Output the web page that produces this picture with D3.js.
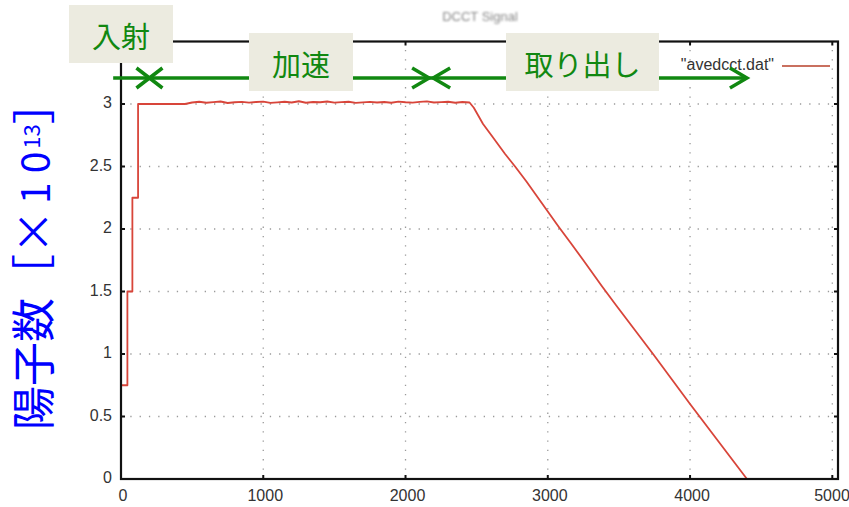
<!DOCTYPE html>
<html>
<head>
<meta charset="utf-8">
<script src="https://cdn.jsdelivr.net/npm/d3@7/dist/d3.min.js"></script>
<style>
  html, body { margin: 0; padding: 0; background: #fff; }
  svg { display: block; }
</style>
</head>
<body>
<svg id="chart" width="849" height="507"></svg>
<script>
// Beam intensity (x10^13 protons) against time in the cycle (ms)
const timeMs = [
  0, 45, 45, 80, 80, 120, 120, 450,
  500, 550, 600, 650, 700, 750, 800, 850, 900, 950,
  1000, 1050, 1100, 1150, 1200, 1250, 1300, 1350, 1400, 1450,
  1500, 1550, 1600, 1650, 1700, 1750, 1800, 1850, 1900, 1950,
  2000, 2050, 2100, 2150, 2200, 2250, 2300, 2350, 2400, 2450,
  2480, 2510, 2545, 2610, 2700, 2770, 2850, 2950, 3075, 3160,
  3250, 3382, 3480, 3600, 3740, 3870, 4000, 4100, 4200, 4300,
  4400
];
const intensity = [
  0.75, 0.75, 1.5, 1.5, 2.25, 2.25, 3.0, 3.0,
  3.012, 3.018, 3.010, 3.015, 3.020, 3.008, 3.014, 3.017, 3.011, 3.016,
  3.019, 3.009, 3.013, 3.018, 3.012, 3.022, 3.010, 3.016, 3.014, 3.020,
  3.011, 3.015, 3.018, 3.009, 3.013, 3.017, 3.012, 3.016, 3.010, 3.019,
  3.014, 3.011, 3.017, 3.021, 3.012, 3.015, 3.018, 3.010, 3.016, 3.012,
  2.97, 2.91, 2.84, 2.74, 2.60, 2.50, 2.38, 2.22, 2.02, 1.89,
  1.75, 1.54, 1.39, 1.21, 1.00, 0.80, 0.60, 0.45, 0.30, 0.15,
  0.0
];

const xTicks = [0, 1000, 2000, 3000, 4000, 5000];
const yTicks = [0, 0.5, 1, 1.5, 2, 2.5, 3];
const yTickLabels = ["0", "0.5", "1", "1.5", "2", "2.5", "3"];

// Cycle phases: names and their boundaries in ms
const phaseNames = ["入射", "加速", "取り出し"];
const phaseStartMs = -55;
const injectionMarkMs = 200;
const accelEndMs = 2180;
const extractionEndMs = 4400;

const chartTitle = "DCCT Signal";
const legendLabel = "\"avedcct.dat\"";

const plot = { left: 121, right: 838, top: 41.5, bottom: 479 };

const svg = d3.select("#chart");

const x = d3.scaleLinear().domain([0, 5040]).range([plot.left, plot.right]);
const y = d3.scaleLinear().domain([0, 3.5]).range([plot.bottom, plot.top]);

// dotted grid
const grid = svg.append("g").attr("stroke", "#9a9a9a").attr("stroke-width", 1.3)
  .attr("stroke-dasharray", "1.3,8").attr("fill", "none");
grid.selectAll("line.v").data(xTicks.filter(d => d > 0)).join("line")
  .attr("class", "v")
  .attr("x1", d => x(d)).attr("x2", d => x(d))
  .attr("y1", plot.bottom).attr("y2", plot.top);
grid.selectAll("line.h").data(yTicks.filter(d => d > 0)).join("line")
  .attr("class", "h")
  .attr("x1", plot.left).attr("x2", plot.right)
  .attr("y1", d => y(d)).attr("y2", d => y(d));

// data line
const pts = timeMs.map((t, i) => [t, intensity[i]]);
const line = d3.line().x(d => x(d[0])).y(d => y(d[1]));
svg.append("path")
  .attr("d", line(pts))
  .attr("fill", "none")
  .attr("stroke", "#d8453a")
  .attr("stroke-width", 1.8)
  .attr("stroke-linejoin", "round");

// frame and mirrored inward ticks
svg.append("rect")
  .attr("x", plot.left).attr("y", plot.top)
  .attr("width", plot.right - plot.left).attr("height", plot.bottom - plot.top)
  .attr("fill", "none").attr("stroke", "#111").attr("stroke-width", 2.2);

const tk = svg.append("g").attr("stroke", "#111").attr("stroke-width", 2);
xTicks.forEach(d => {
  tk.append("line").attr("x1", x(d)).attr("x2", x(d)).attr("y1", plot.bottom).attr("y2", plot.bottom - 4);
  tk.append("line").attr("x1", x(d)).attr("x2", x(d)).attr("y1", plot.top).attr("y2", plot.top + 4);
});
yTicks.forEach(d => {
  tk.append("line").attr("x1", plot.left).attr("x2", plot.left + 4).attr("y1", y(d)).attr("y2", y(d));
  tk.append("line").attr("x1", plot.right).attr("x2", plot.right - 4).attr("y1", y(d)).attr("y2", y(d));
});

// tick labels
const tickFont = "'Liberation Sans Narrow', 'Liberation Sans', sans-serif";
svg.append("g").selectAll("text").data(xTicks).join("text")
  .attr("x", d => Math.min(x(d) + 2, 832)).attr("y", plot.bottom + 18)
  .attr("text-anchor", "middle").attr("dominant-baseline", "middle")
  .attr("font-family", tickFont).attr("font-size", 16).attr("fill", "#333")
  .text(d => d);
svg.append("g").selectAll("text").data(yTicks).join("text")
  .attr("x", plot.left - 9).attr("y", d => y(d))
  .attr("text-anchor", "end").attr("dominant-baseline", "middle")
  .attr("font-family", tickFont).attr("font-size", 16).attr("fill", "#333")
  .text((d, i) => yTickLabels[i]);

// faint title
svg.append("defs").append("filter").attr("id", "soft")
  .append("feGaussianBlur").attr("stdDeviation", 0.9);
svg.append("text")
  .attr("x", 480).attr("y", 18)
  .attr("text-anchor", "middle").attr("dominant-baseline", "middle")
  .attr("font-family", "'Liberation Sans', sans-serif").attr("font-size", 13).attr("fill", "#888")
  .attr("filter", "url(#soft)")
  .text(chartTitle);

// legend
svg.append("text")
  .attr("x", 774).attr("y", 66)
  .attr("text-anchor", "end").attr("dominant-baseline", "middle")
  .attr("font-family", "'Liberation Sans', sans-serif").attr("font-size", 16).attr("fill", "#333")
  .text(legendLabel);
svg.append("line")
  .attr("x1", 782).attr("x2", 830).attr("y1", 66).attr("y2", 66)
  .attr("stroke", "#c9705f").attr("stroke-width", 1.8);

// phase arrows
const green = "#118811";
const arrowY = 78;
const ag = svg.append("g").attr("stroke", green).attr("stroke-width", 3.5)
  .attr("fill", "none").attr("stroke-linecap", "butt");
ag.append("line").attr("x1", x(phaseStartMs)).attr("x2", x(extractionEndMs))
  .attr("y1", arrowY).attr("y2", arrowY);
function head(tipX, dir) {
  const len = 17, half = 10;
  ag.append("path")
    .attr("d", `M${tipX - dir * len},${arrowY - half}L${tipX},${arrowY}L${tipX - dir * len},${arrowY + half}`)
    .attr("stroke-linejoin", "miter");
}
head(x(accelEndMs) - 2, 1);
head(x(accelEndMs) + 2, -1);
head(x(extractionEndMs), 1);
const cx = x(injectionMarkMs);
ag.append("path").attr("d", `M${cx - 13},${arrowY - 10}L${cx + 13},${arrowY + 10}M${cx - 13},${arrowY + 10}L${cx + 13},${arrowY - 10}`);

// phase labels in boxes
const boxes = [
  { x: 69, y: 5, w: 104, h: 58 },
  { x: 249, y: 33, w: 104, h: 58 },
  { x: 506, y: 33, w: 153, h: 58 }
];
const lg = svg.append("g");
phaseNames.forEach((name, i) => {
  const b = boxes[i];
  lg.append("rect").attr("x", b.x).attr("y", b.y).attr("width", b.w).attr("height", b.h)
    .attr("fill", "#ecebe0");
  lg.append("text")
    .attr("x", b.x + b.w / 2).attr("y", b.y + b.h / 2 + 1)
    .attr("text-anchor", "middle").attr("dominant-baseline", "central")
    .attr("font-family", "'Noto Sans CJK JP', sans-serif").attr("font-size", 29)
    .attr("fill", green)
    .text(name);
});

// vertical axis title, read bottom to top
const yt = svg.append("text")
  .attr("transform", "translate(50,430) rotate(-90)")
  .attr("text-anchor", "start")
  .attr("font-family", "'Noto Sans CJK JP', sans-serif")
  .attr("font-size", 44).attr("fill", "#0000ff");
yt.append("tspan").text("陽子数［×");
yt.append("tspan").attr("font-size", 39).attr("dx", 6).attr("letter-spacing", 9).text("10");
yt.append("tspan").attr("font-size", 22).attr("dx", -6).attr("dy", -10).text("13");
yt.append("tspan").attr("dy", 10).text("］");
</script>
</body>
</html>
